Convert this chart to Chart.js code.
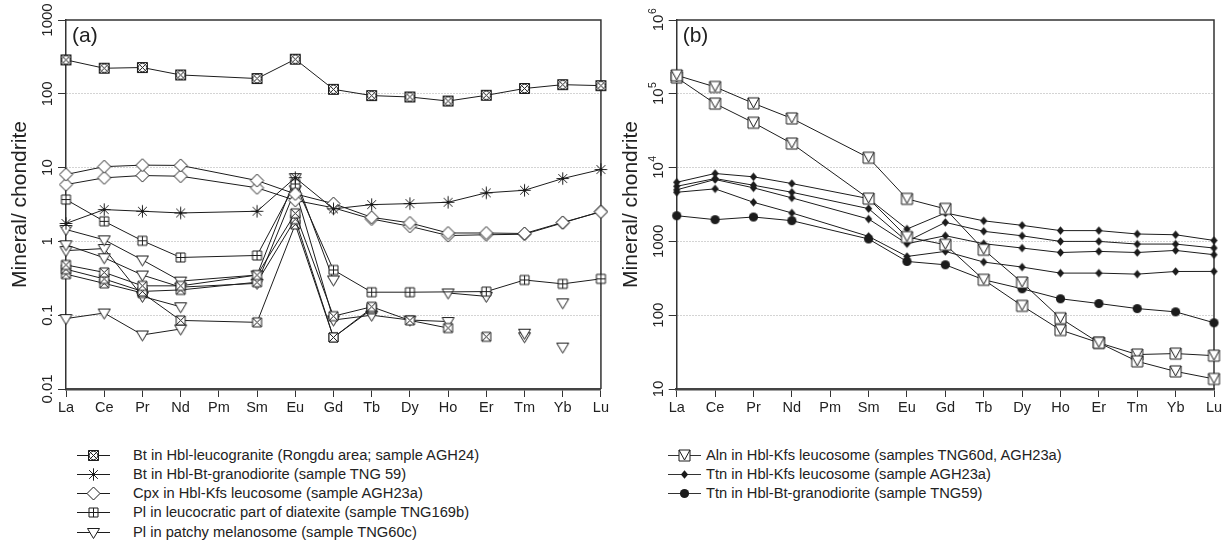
<!DOCTYPE html>
<html><head><meta charset="utf-8">
<script src="https://cdn.jsdelivr.net/npm/chart.js"></script>
<style>
html,body{margin:0;padding:0;background:#fff;}
body{width:1230px;height:557px;overflow:hidden;position:relative;font-family:"Liberation Sans",Arial,Helvetica,sans-serif;}
.wrap{position:absolute;top:0;}
.lrow{position:absolute;height:19px;line-height:19px;white-space:nowrap;font-size:14.7px;color:#222;}
.lrow canvas{position:absolute;top:0;}
.lrow span{position:absolute;top:0;}
</style></head><body>
<div class="wrap" style="left:0;width:611px;height:430px"><canvas id="ca" width="611" height="430"></canvas></div>
<div class="wrap" style="left:611px;width:619px;height:430px"><canvas id="cb" width="619" height="430"></canvas></div>
<div id="legends"></div>
<script>
// ---------- categories & tick labels ----------
const ELEMENTS = ['La','Ce','Pr','Nd','Pm','Sm','Eu','Gd','Tb','Dy','Ho','Er','Tm','Yb','Lu'];
const Y_TICKS_A = [0.01, 0.1, 1, 10, 100, 1000];
const Y_TICK_LABELS_A = ['0.01', '0.1', '1', '10', '100', '1000'];
const Y_TICKS_B = [10, 100, 1000, 10000, 100000, 1000000];
const Y_TICK_LABELS_B = ['10', '100', '1000', '10^4', '10^5', '10^6'];
const Y_TITLE = 'Mineral/ chondrite';

// ---------- panel (a) series ----------
const A_BT_AGH24 = [288, 222, 227, 180, null, 161, 294, 115, 94.6, 90.5, 79.8, 95.4, 118, 133, 129];
const A_BT_TNG59 = [1.75, 2.70, 2.56, 2.43, null, 2.56, 7.3, 2.76, 3.15, 3.25, 3.39, 4.55, 4.93, 7.11, 9.42];
const A_CPX_1 = [8.06, 10.3, 10.8, 10.7, null, 6.68, 4.4, 3.25, 2.12, 1.78, 1.30, 1.30, 1.28, 1.81, 2.51];
const A_CPX_2 = [5.89, 7.27, 7.81, 7.64, null, 5.32, 3.6, 2.85, 2.01, 1.60, 1.20, 1.23, 1.25, 1.78, 2.55];
const A_PL169_1 = [3.69, 1.87, 1.02, 0.606, null, 0.645, 6.0, 0.41, 0.205, 0.205, null, 0.209, 0.30, 0.266, 0.311];
const A_PL169_2 = [0.48, 0.38, 0.25, 0.25, null, 0.35, 2.4, 0.097, 0.13, 0.085, 0.067, null, null, null, null];
const A_PL169_3 = [0.42, 0.31, 0.21, 0.22, null, 0.28, 2.0, 0.05, 0.125, null, null, 0.051, null, null, null];
const A_PL169_4 = [0.36, 0.27, 0.20, 0.085, null, 0.08, 1.7, 0.05, 0.12, null, null, null, null, null, null];
const A_PL60_1 = [1.45, 1.05, 0.56, 0.29, null, 0.35, 7.3, 0.30, null, null, 0.20, 0.18, null, 0.147, null];
const A_PL60_2 = [0.90, 0.60, 0.35, 0.24, null, 0.27, 5.0, 0.086, 0.10, 0.086, 0.082, null, 0.057, null, null];
const A_PL60_3 = [0.75, 0.80, 0.18, 0.13, null, null, null, null, null, null, null, null, null, 0.037, null];
const A_PL60_4 = [0.09, 0.107, 0.054, 0.065, null, null, null, null, null, null, null, null, 0.051, null, null];

// ---------- panel (b) series ----------
const B_ALN_1 = [178000, 124000, 74300, 46400, null, 13600, 3770, 2760, 771, 277, 91, 42.3, 23.7, 17.3, 13.7];
const B_ALN_2 = [166000, 73600, 40600, 21200, null, 3800, 1146, 902, 302, 134, 63, 42.3, 29.3, 30.2, 28.3];
const B_TTN23_1 = [6320, 8320, 7500, 6080, null, 3800, 1470, 2430, 1900, 1650, 1400, 1400, 1260, 1230, 1030];
const B_TTN23_2 = [5580, 7110, 5770, 4630, null, 2780, 1000, 1810, 1370, 1190, 1000, 1000, 920, 920, 813];
const B_TTN23_3 = [5000, 6900, 5320, 3890, null, 2010, 931, 1195, 931, 813, 707, 732, 707, 755, 660];
const B_TTN23_4 = [4630, 5150, 3390, 2430, null, 1170, 625, 732, 525, 449, 372, 372, 360, 391, 392];
const B_TTN59 = [2230, 1970, 2140, 1910, null, 1078, 535, 482, 302, 228, 167, 144, 123, 111, 79];

// ---------- legend texts ----------
const LEGEND_A = [
  ['Bt in Hbl-leucogranite (Rongdu area; sample AGH24)', 'sqXO'],
  ['Bt in Hbl-Bt-granodiorite (sample TNG 59)', 'asterisk'],
  ['Cpx in Hbl-Kfs leucosome (sample AGH23a)', 'diamond'],
  ['Pl in leucocratic part of diatexite (sample TNG169b)', 'sqPlus'],
  ['Pl in patchy melanosome (sample TNG60c)', 'triDown']
];
const LEGEND_B = [
  ['Aln in Hbl-Kfs leucosome (samples TNG60d, AGH23a)', 'sqTri'],
  ['Ttn in Hbl-Kfs leucosome (sample AGH23a)', 'diamondF'],
  ['Ttn in Hbl-Bt-granodiorite (sample TNG59)', 'circleF']
];

const FAM = '"Liberation Sans", Arial, Helvetica, sans-serif';
const INK = '#1c1c1c';

function drawMarker(ctx, type, cx, cy) {
  ctx.save();
  ctx.strokeStyle = INK; ctx.fillStyle = '#fff'; ctx.lineWidth = 1;
  const line = (x1, y1, x2, y2) => { ctx.moveTo(x1, y1); ctx.lineTo(x2, y2); };
  if (type === 'sqXO') {
    const h = 5;
    ctx.beginPath(); ctx.rect(cx - h, cy - h, 2 * h, 2 * h); ctx.fill(); ctx.stroke();
    ctx.beginPath(); line(cx - h, cy - h, cx + h, cy + h); line(cx + h, cy - h, cx - h, cy + h); ctx.stroke();
    ctx.beginPath(); ctx.arc(cx, cy, 4.3, 0, Math.PI * 2); ctx.stroke();
  } else if (type === 'asterisk') {
    const r = 6.2;
    ctx.beginPath();
    for (let k = 0; k < 4; k++) {
      const a = k * Math.PI / 4;
      line(cx - r * Math.cos(a), cy - r * Math.sin(a), cx + r * Math.cos(a), cy + r * Math.sin(a));
    }
    ctx.stroke();
  } else if (type === 'diamond') {
    const r = 6.5;
    ctx.beginPath(); ctx.moveTo(cx, cy - r); ctx.lineTo(cx + r, cy); ctx.lineTo(cx, cy + r); ctx.lineTo(cx - r, cy); ctx.closePath();
    ctx.fill(); ctx.stroke();
  } else if (type === 'sqPlus') {
    const h = 4.5;
    ctx.beginPath(); ctx.rect(cx - h, cy - h, 2 * h, 2 * h); ctx.fill(); ctx.stroke();
    ctx.beginPath(); line(cx - h, cy, cx + h, cy); line(cx, cy - h, cx, cy + h); ctx.stroke();
  } else if (type === 'sqX') {
    const h = 4.5;
    ctx.beginPath(); ctx.rect(cx - h, cy - h, 2 * h, 2 * h); ctx.fill(); ctx.stroke();
    ctx.beginPath(); line(cx - h, cy - h, cx + h, cy + h); line(cx + h, cy - h, cx - h, cy + h); ctx.stroke();
  } else if (type === 'triDown') {
    ctx.beginPath(); ctx.moveTo(cx - 6, cy - 4); ctx.lineTo(cx + 6, cy - 4); ctx.lineTo(cx, cy + 6); ctx.closePath();
    ctx.fill(); ctx.stroke();
  } else if (type === 'sqTri') {
    const h = 5.5;
    ctx.beginPath(); ctx.rect(cx - h, cy - h, 2 * h, 2 * h); ctx.fill(); ctx.stroke();
    ctx.beginPath(); ctx.moveTo(cx - h, cy - h); ctx.lineTo(cx, cy + h - 1); ctx.lineTo(cx + h, cy - h); ctx.stroke();
  } else if (type === 'diamondF') {
    ctx.fillStyle = INK;
    ctx.beginPath(); ctx.moveTo(cx, cy - 4.2); ctx.lineTo(cx + 3.6, cy); ctx.lineTo(cx, cy + 4.2); ctx.lineTo(cx - 3.6, cy); ctx.closePath();
    ctx.fill();
  } else if (type === 'circleF') {
    ctx.fillStyle = INK;
    ctx.beginPath(); ctx.arc(cx, cy, 4.6, 0, Math.PI * 2); ctx.fill();
  }
  ctx.restore();
}

const MARKERS = {};
['sqXO','asterisk','diamond','sqPlus','sqX','triDown','sqTri','diamondF','circleF'].forEach(t => {
  const c = document.createElement('canvas'); c.width = 17; c.height = 17;
  drawMarker(c.getContext('2d'), t, 8.5, 8.5);
  MARKERS[t] = c;
});

function toPoints(arr, span) {
  const pts = [];
  arr.forEach((v, i) => {
    if (ELEMENTS[i] === 'Pm') return;      // Pm not analysed: joined Nd-Sm
    if (v === null) { if (!span) pts.push({x: ELEMENTS[i], y: null}); return; }
    pts.push({x: ELEMENTS[i], y: v});
  });
  return pts;
}

function ds(label, arr, marker, span) {
  return {
    label, data: toPoints(arr, span), pointStyle: MARKERS[marker], pointRadius: 6, pointHoverRadius: 6,
    borderColor: INK, borderWidth: 1, backgroundColor: INK, fill: false, tension: 0, spanGaps: false
  };
}

const DATASETS_A = [
  ds('Bt in Hbl-leucogranite (AGH24)', A_BT_AGH24, 'sqXO', false),
  ds('Bt in Hbl-Bt-granodiorite (TNG 59)', A_BT_TNG59, 'asterisk', false),
  ds('Cpx AGH23a #1', A_CPX_1, 'diamond', false),
  ds('Cpx AGH23a #2', A_CPX_2, 'diamond', false),
  ds('Pl TNG169b #1', A_PL169_1, 'sqPlus', true),
  ds('Pl TNG169b #2', A_PL169_2, 'sqX', false),
  ds('Pl TNG169b #3', A_PL169_3, 'sqX', false),
  ds('Pl TNG169b #4', A_PL169_4, 'sqX', false),
  ds('Pl TNG60c #1', A_PL60_1, 'triDown', false),
  ds('Pl TNG60c #2', A_PL60_2, 'triDown', false),
  ds('Pl TNG60c #3', A_PL60_3, 'triDown', false),
  ds('Pl TNG60c #4', A_PL60_4, 'triDown', false)
];
const DATASETS_B = [
  ds('Aln #1', B_ALN_1, 'sqTri', false),
  ds('Aln #2', B_ALN_2, 'sqTri', false),
  ds('Ttn AGH23a #1', B_TTN23_1, 'diamondF', false),
  ds('Ttn AGH23a #2', B_TTN23_2, 'diamondF', false),
  ds('Ttn AGH23a #3', B_TTN23_3, 'diamondF', false),
  ds('Ttn AGH23a #4', B_TTN23_4, 'diamondF', false),
  ds('Ttn TNG59', B_TTN59, 'circleF', false)
];

function makeDecorPlugin(tickVals, tickLabels, panel) {
  return {
    id: 'decor' + panel,
    beforeDatasetsDraw(chart) {
      const {ctx, chartArea: a} = chart;
      ctx.save();
      ctx.strokeStyle = '#333'; ctx.lineWidth = 1.5;
      ctx.beginPath(); ctx.moveTo(a.left, a.top); ctx.lineTo(a.right, a.top); ctx.lineTo(a.right, a.bottom); ctx.stroke();
      ctx.restore();
    },
    afterDraw(chart) {
      const {ctx, chartArea: a} = chart; const ys = chart.scales.y;
      ctx.save(); ctx.fillStyle = '#222';
      tickVals.forEach((v, i) => {
        const py = ys.getPixelForValue(v);
        const cx = a.left - 18;
        ctx.save(); ctx.translate(cx, py); ctx.rotate(-Math.PI / 2);
        ctx.textBaseline = 'middle';
        const parts = tickLabels[i].split('^');
        ctx.font = '15px ' + FAM;
        if (parts.length === 1) {
          ctx.textAlign = 'center'; ctx.fillText(parts[0], 0, 0);
        } else {
          const w1 = ctx.measureText(parts[0]).width;
          ctx.font = '10.5px ' + FAM;
          const w2 = ctx.measureText(parts[1]).width;
          const x0 = -(w1 + w2) / 2;
          ctx.textAlign = 'left';
          ctx.font = '15px ' + FAM; ctx.fillText(parts[0], x0, 0);
          ctx.font = '10.5px ' + FAM; ctx.fillText(parts[1], x0 + w1 + 0.5, -5.5);
        }
        ctx.restore();
      });
      ctx.font = '21px ' + FAM; ctx.textAlign = 'left'; ctx.textBaseline = 'middle';
      ctx.fillText('(' + panel + ')', a.left + 6, 36);
      ctx.restore();
    }
  };
}

function makeChart(id, datasets, tickVals, tickLabels, panel, padRight, yWidth) {
  const ymin = tickVals[0], ymax = tickVals[tickVals.length - 1];
  return new Chart(document.getElementById(id), {
    type: 'line',
    data: { labels: ELEMENTS, datasets },
    options: {
      responsive: false, animation: false, devicePixelRatio: 1,
      layout: { padding: { left: 0, right: padRight, top: 20, bottom: 0 } },
      plugins: { legend: { display: false }, tooltip: { enabled: false } },
      scales: {
        x: {
          type: 'category', offset: false,
          grid: { display: true, drawOnChartArea: false, drawTicks: true, tickLength: 8, tickColor: '#333', tickWidth: 1, tickBorderDash: [] },
          border: { display: true, color: '#444', width: 2.5 },
          ticks: { autoSkip: false, maxRotation: 0, minRotation: 0, padding: 2, color: '#222', font: { family: FAM, size: 14.5 } },
          afterFit: s => { s.height = 41; }
        },
        y: {
          type: 'logarithmic', min: ymin, max: ymax,
          afterBuildTicks: s => { s.ticks = tickVals.map(v => ({ value: v })); },
          afterFit: s => { s.width = yWidth; },
          grid: {
            color: c => (c.tick && (c.tick.value === ymin || c.tick.value === ymax)) ? 'rgba(0,0,0,0)' : '#a8a8a8',
            lineWidth: 1, drawTicks: true, tickLength: 8, tickColor: '#333', tickWidth: 1, tickBorderDash: []
          },
          border: { display: true, color: '#333', width: 1.5, dash: [1, 2] },
          ticks: { display: false },
          title: { display: true, text: Y_TITLE, color: '#222', font: { family: FAM, size: 21 }, padding: { top: 7.4, bottom: 0 } }
        }
      }
    },
    plugins: [makeDecorPlugin(tickVals, tickLabels, panel)]
  });
}

makeChart('ca', DATASETS_A, Y_TICKS_A, Y_TICK_LABELS_A, 'a', 8.3, 66);
makeChart('cb', DATASETS_B, Y_TICKS_B, Y_TICK_LABELS_B, 'b', 16, 65.7);

// ---------- legends (HTML) ----------
function buildLegend(entries, lineLeft, textLeft, firstCenter, lineColor) {
  const host = document.getElementById('legends');
  entries.forEach((e, i) => {
    const row = document.createElement('div');
    row.className = 'lrow';
    row.style.left = '0px';
    row.style.top = (firstCenter + i * 19.3 - 9.5) + 'px';
    const c = document.createElement('canvas'); c.width = 33; c.height = 19;
    c.style.left = lineLeft + 'px';
    const g = c.getContext('2d');
    g.strokeStyle = lineColor; g.lineWidth = 1;
    g.beginPath(); g.moveTo(0, 9.5); g.lineTo(33, 9.5); g.stroke();
    drawMarker(g, e[1], 16.5, 9.5);
    const s = document.createElement('span'); s.textContent = e[0]; s.style.left = textLeft + 'px';
    row.appendChild(c); row.appendChild(s); host.appendChild(row);
  });
}
buildLegend(LEGEND_A, 77, 133, 455, INK);
buildLegend(LEGEND_B, 668, 706, 455, '#333');
</script>
</body></html>
